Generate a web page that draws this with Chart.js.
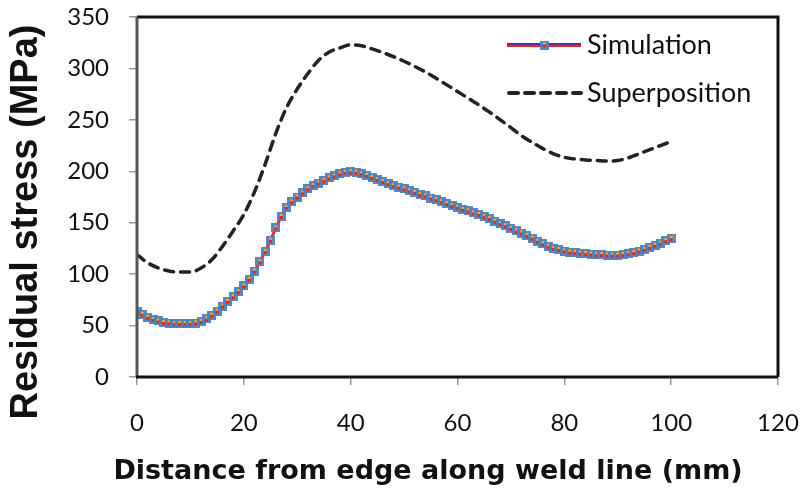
<!DOCTYPE html>
<html>
<head>
<meta charset="utf-8">
<script src="https://cdn.jsdelivr.net/npm/chart.js@4.4.1/dist/chart.umd.min.js"></script>
<style>
html,body{margin:0;padding:0;background:#fff;}
#wrap{width:801px;height:495px;position:relative;}
</style>
</head>
<body>
<div id="wrap"><canvas id="c" width="801" height="495"></canvas></div>
<script>
// ---- data ----
const simX = [0,1,2,3,4,5,6,7,8,9,10,11,12,13,14,15,16,17,18,19,20,21,22,23,24,25,26,27,28,29,30,31,32,33,34,35,36,37,38,39,40,41,42,43,44,45,46,47,48,49,50,51,52,53,54,55,56,57,58,59,60,61,62,63,64,65,66,67,68,69,70,71,72,73,74,75,76,77,78,79,80,81,82,83,84,85,86,87,88,89,90,91,92,93,94,95,96,97,98,99,100];
const simY = [63.5,61,58,56,54.5,53,52.5,52,52,52,52,52.5,54,56.5,60,64,69,73.5,78,83,88.5,95,103,112,122,133,145,156,165,170.5,175,179,183,186,188.5,191,193.5,195.5,197.5,199,199.5,199,197.5,196,194,192,190,188,186,184.5,183,181,179.5,177.5,176,174,172.5,170.5,168.5,166.5,165,163,161.5,159.5,158,156,154,151.5,149,147,144.5,142,140,137.5,135,132,129.5,127,125,124,122.5,121.5,121,120.5,120,119.5,119,119,118.5,118.5,118.5,119,120,121,122.5,124,126,128,130,132.5,134.5];
const supX = [0,2,4,6,8,10,12,14,16,18,20,22,24,26,28,30,32,34,36,38,40,42,44,46,48,50,52,54,56,58,60,62,64,66,68,70,72,74,76,78,80,82,84,86,88,90,92,94,96,98,100];
const supY = [119,111,106,103,102,102,106,114,127,142,158,180,207,237,262,280,295,308,316,320,323,322,319,315.5,311.5,307,302,296.5,290.5,284,277.5,271,264.5,257.5,250,242.5,234.5,228,222,217,213.5,212,211,210.5,210,210.5,213,217,221,225,229];
const xTicks = [0,20,40,60,80,100,120];
const yTicks = [0,50,100,150,200,250,300,350];
const seriesNames = ["Simulation","Superposition"];
const xTitle = "Distance from edge along weld line (mm)";
const yTitle = "Residual stress (MPa)";

// marker image
function makeMarker(){
  const m = document.createElement('canvas');
  m.width = 9; m.height = 9;
  const g = m.getContext('2d');
  g.fillStyle = 'rgba(79,129,189,0.95)';
  g.fillRect(0,0,9,9);
  g.fillStyle = '#F6B027';
  g.fillRect(3,2,3,2);
  g.fillStyle = '#E8261C';
  g.fillRect(3,4,3,3);
  return m;
}
const marker = makeMarker();

const frame = {
  id:'frame',
  afterDatasetsDraw(chart){
    const {ctx, chartArea:a} = chart;
    ctx.save();
    ctx.lineWidth = 3;
    ctx.strokeStyle = '#111';
    ctx.beginPath();
    ctx.moveTo(a.left, a.top); ctx.lineTo(a.right, a.top); ctx.lineTo(a.right, a.bottom);
    ctx.stroke();
    ctx.strokeStyle = '#555';
    ctx.beginPath(); ctx.moveTo(a.left, a.top); ctx.lineTo(a.left, a.bottom); ctx.stroke();
    ctx.strokeStyle = '#111';
    ctx.beginPath(); ctx.moveTo(a.left-1, a.bottom); ctx.lineTo(a.right, a.bottom); ctx.stroke();

    // legend
    const lx0 = 507, lx1 = 581, tx = 587;
    const y1 = 45, y2 = 93;
    ctx.lineWidth = 2;
    ctx.strokeStyle = '#5A2A9A';
    ctx.beginPath(); ctx.moveTo(lx0, y1-1); ctx.lineTo(lx1, y1-1); ctx.stroke();
    ctx.strokeStyle = '#E8262C';
    ctx.beginPath(); ctx.moveTo(lx0, y1+1); ctx.lineTo(lx1, y1+1); ctx.stroke();
    ctx.drawImage(marker, Math.round((lx0+lx1)/2-4.5), y1-4.5);
    ctx.lineWidth = 4;
    ctx.strokeStyle = '#222';
    ctx.lineCap = 'round';
    ctx.setLineDash([9,7]);
    ctx.beginPath(); ctx.moveTo(lx0+2, y2); ctx.lineTo(lx1, y2); ctx.stroke();
    ctx.setLineDash([]);
    ctx.fillStyle = '#111';
    ctx.font = '27px Lato';
    ctx.textBaseline = 'middle';
    ctx.textAlign = 'left';
    ctx.fillText(seriesNames[0], tx, y1);
    ctx.fillText(seriesNames[1], tx, y2);

    // axis titles
    ctx.textAlign = 'center';
    ctx.font = 'bold 27px "DejaVu Sans"';
    ctx.fillText(xTitle, 428, 472);
    ctx.save();
    ctx.translate(27, 222);
    ctx.rotate(-Math.PI/2);
    ctx.font = 'bold 38px "Liberation Sans"';
    ctx.fillText(yTitle, 0, 0);
    ctx.restore();
    ctx.restore();
  }
};

new Chart(document.getElementById('c'), {
  type:'scatter',
  data:{
    datasets:[
      {
        label: seriesNames[1],
        data: supX.map((x,i)=>({x, y:supY[i]})),
        showLine:true,
        borderColor:'#222',
        borderWidth:3.5,
        borderDash:[9,7],
        borderCapStyle:'round',
        pointRadius:0,
        tension:0.4,
        cubicInterpolationMode:'monotone'
      },
      {
        label: seriesNames[0],
        data: simX.map((x,i)=>({x, y:simY[i]})),
        showLine:true,
        borderColor:'#E8262C',
        borderWidth:3,
        pointStyle: marker,
        pointRadius:4.5,
        tension:0
      }
    ]
  },
  options:{
    responsive:false,
    animation:false,
    devicePixelRatio:1,
    layout:{padding:{left:0, right:23, top:17, bottom:0}},
    plugins:{legend:{display:false}, tooltip:{enabled:false}},
    scales:{
      x:{
        type:'linear', min:0, max:120,
        afterBuildTicks(ax){ ax.ticks = xTicks.map(v=>({value:v})); },
        afterFit(ax){ ax.height = 118; ax.paddingLeft = 0; ax.paddingRight = 0; },
        grid:{display:true, drawOnChartArea:false, drawTicks:true, tickLength:8, color:'#999', lineWidth:1.5},
        border:{display:false},
        ticks:{padding:24, color:'#111', font:{family:'Lato', size:24}}
      },
      y:{
        min:0, max:350,
        afterBuildTicks(ax){ ax.ticks = yTicks.map(v=>({value:v})); },
        afterFit(ax){ ax.width = 137; ax.paddingTop = 0; ax.paddingBottom = 0; },
        grid:{display:true, drawOnChartArea:false, drawTicks:true, tickLength:8, color:'#999', lineWidth:1.5},
        border:{display:false},
        ticks:{padding:20, color:'#111', font:{family:'Lato', size:24}}
      }
    }
  },
  plugins:[frame]
});
</script>
</body>
</html>
